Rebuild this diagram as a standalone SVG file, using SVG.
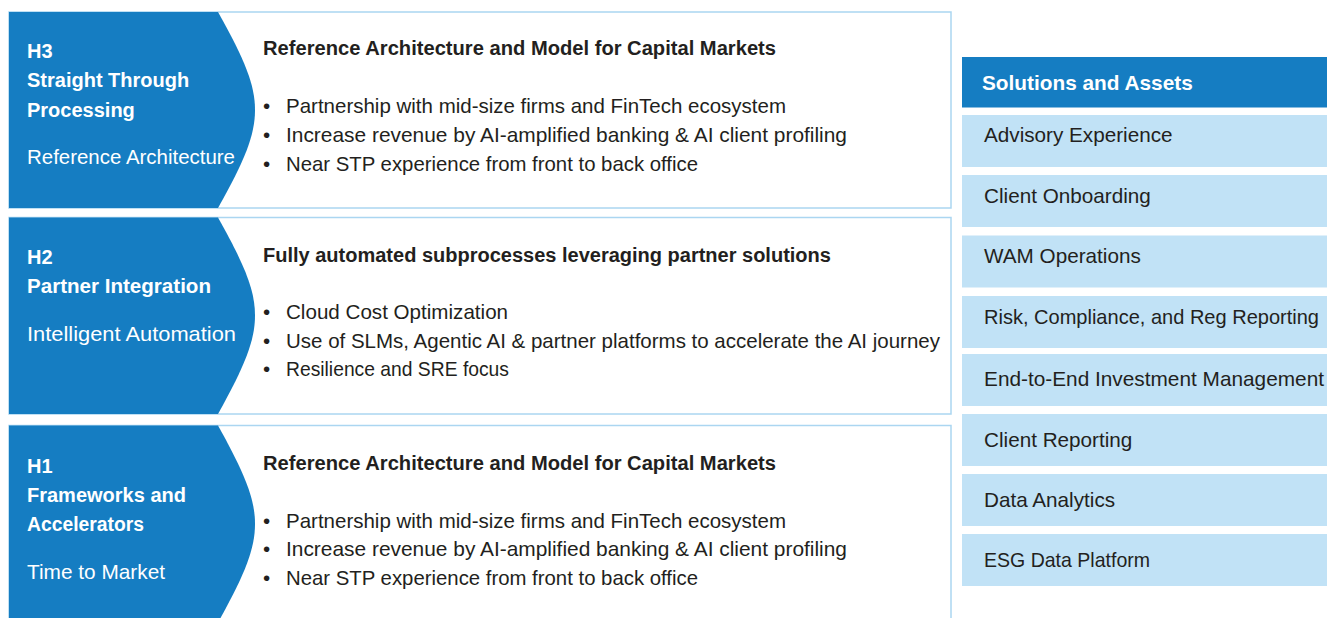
<svg xmlns="http://www.w3.org/2000/svg" width="1327" height="618" viewBox="0 0 1327 618">
<style>
.box{fill:#fff;stroke:#abd6f1;stroke-width:1.5}
.tab{fill:#157dc2}
.wb{font-family:"Liberation Sans",Arial,sans-serif;font-size:20px;font-weight:bold;fill:#fff}
.wr{font-family:"Liberation Sans",Arial,sans-serif;font-size:20.3px;fill:#fff}
.tb{font-family:"Liberation Sans",Arial,sans-serif;font-size:20px;font-weight:bold;fill:#231f20}
.tr{font-family:"Liberation Sans",Arial,sans-serif;font-size:20.6px;fill:#231f20}
.item{fill:#c1e2f6}
.it{font-family:"Liberation Sans",Arial,sans-serif;font-size:20.7px;fill:#231f20}
</style>
<rect width="1327" height="618" fill="#fff"/>

<g id="h3">
<rect class="box" x="9" y="12" width="942" height="196"/>
<path class="tab" d="M9,12 H218 C245,60 255,85 255,110 C255,135 245,160 218,208 H9 Z"/>
<text class="wb" x="27" y="58">H3</text>
<text class="wb" x="27" y="87">Straight Through</text>
<text class="wb" x="27" y="117">Processing</text>
<text class="wr" x="27" y="164" textLength="208" lengthAdjust="spacingAndGlyphs">Reference Architecture</text>
<text class="tb" x="263" y="55" textLength="513" lengthAdjust="spacingAndGlyphs">Reference Architecture and Model for Capital Markets</text>
<text class="tr" x="263" y="113">•</text><text class="tr" x="286" y="113" textLength="500" lengthAdjust="spacingAndGlyphs">Partnership with mid-size firms and FinTech ecosystem</text>
<text class="tr" x="263" y="142">•</text><text class="tr" x="286" y="142" textLength="561" lengthAdjust="spacingAndGlyphs">Increase revenue by AI-amplified banking &amp; AI client profiling</text>
<text class="tr" x="263" y="170.5">•</text><text class="tr" x="286" y="170.5" textLength="412" lengthAdjust="spacingAndGlyphs">Near STP experience from front to back office</text>
</g>

<g id="h2">
<rect class="box" x="9" y="217.5" width="942" height="196.5"/>
<path class="tab" d="M9,217.5 H218 C245,265.5 255,290.5 255,315.5 C255,340.5 245,365.5 218,414 H9 Z"/>
<text class="wb" x="27" y="264">H2</text>
<text class="wb" x="27" y="293" textLength="184" lengthAdjust="spacingAndGlyphs">Partner Integration</text>
<text class="wr" x="27" y="341" textLength="209" lengthAdjust="spacingAndGlyphs">Intelligent Automation</text>
<text class="tb" x="263" y="261.5">Fully automated subprocesses leveraging partner solutions</text>
<text class="tr" x="263" y="319">•</text><text class="tr" x="286" y="319">Cloud Cost Optimization</text>
<text class="tr" x="263" y="347.5">•</text><text class="tr" x="286" y="347.5" textLength="654" lengthAdjust="spacingAndGlyphs">Use of SLMs, Agentic AI &amp; partner platforms to accelerate the AI journey</text>
<text class="tr" x="263" y="376">•</text><text class="tr" x="286" y="376" textLength="223" lengthAdjust="spacingAndGlyphs">Resilience and SRE focus</text>
</g>

<g id="h1">
<rect class="box" x="9" y="425.5" width="942" height="197"/>
<path class="tab" d="M9,425.5 H218 C245,474 255,499 255,524 C255,549 245,574 218,622.5 H9 Z"/>
<text class="wb" x="27" y="472.5">H1</text>
<text class="wb" x="27" y="501.5">Frameworks and</text>
<text class="wb" x="27" y="530.5" textLength="117" lengthAdjust="spacingAndGlyphs">Accelerators</text>
<text class="wr" x="27" y="578.5" textLength="138" lengthAdjust="spacingAndGlyphs">Time to Market</text>
<text class="tb" x="263" y="469.5" textLength="513" lengthAdjust="spacingAndGlyphs">Reference Architecture and Model for Capital Markets</text>
<text class="tr" x="263" y="527.5">•</text><text class="tr" x="286" y="527.5" textLength="500" lengthAdjust="spacingAndGlyphs">Partnership with mid-size firms and FinTech ecosystem</text>
<text class="tr" x="263" y="556">•</text><text class="tr" x="286" y="556" textLength="561" lengthAdjust="spacingAndGlyphs">Increase revenue by AI-amplified banking &amp; AI client profiling</text>
<text class="tr" x="263" y="584.5">•</text><text class="tr" x="286" y="584.5" textLength="412" lengthAdjust="spacingAndGlyphs">Near STP experience from front to back office</text>
</g>

<g id="solutions">
<rect class="tab" x="962" y="57" width="365" height="50.5"/>
<text class="wb" x="982" y="90" style="font-size:20.8px">Solutions and Assets</text>
<rect class="item" x="962" y="115" width="365" height="52"/>
<text class="it" x="984" y="142">Advisory Experience</text>
<rect class="item" x="962" y="175" width="365" height="52"/>
<text class="it" x="984" y="203">Client Onboarding</text>
<rect class="item" x="962" y="235.5" width="365" height="52"/>
<text class="it" x="984" y="263">WAM Operations</text>
<rect class="item" x="962" y="296" width="365" height="52"/>
<text class="it" x="984" y="324" textLength="335" lengthAdjust="spacingAndGlyphs">Risk, Compliance, and Reg Reporting</text>
<rect class="item" x="962" y="354" width="365" height="52"/>
<text class="it" x="984" y="385.5" textLength="340" lengthAdjust="spacingAndGlyphs">End-to-End Investment Management</text>
<rect class="item" x="962" y="414" width="365" height="52"/>
<text class="it" x="984" y="446.5">Client Reporting</text>
<rect class="item" x="962" y="474" width="365" height="52"/>
<text class="it" x="984" y="507">Data Analytics</text>
<rect class="item" x="962" y="534" width="365" height="52"/>
<text class="it" x="984" y="567" textLength="166" lengthAdjust="spacingAndGlyphs">ESG Data Platform</text>
</g>

<g id="connectors"></g>
</svg>
